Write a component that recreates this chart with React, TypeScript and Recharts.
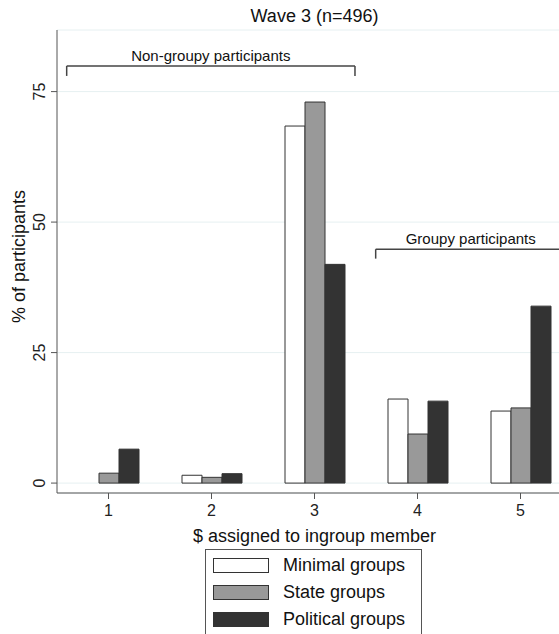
import React from 'react';
import { BarChart, Bar, XAxis, YAxis, CartesianGrid, ReferenceLine, Label } from 'recharts';

// values (% of participants)
const amounts = ['1', '2', '3', '4', '5'];
const minimalGroups = [0, 1.5, 68.4, 16.1, 13.8];
const stateGroups = [1.9, 1.1, 73.0, 9.4, 14.4];
const politicalGroups = [6.5, 1.8, 41.9, 15.7, 33.9];
const yTicks = [0, 25, 50, 75];

const FONT = '"Liberation Sans", Arial, Helvetica, sans-serif';
const EDGE = '#333';

const series = [
  { key: 'minimal', name: 'Minimal groups', fill: '#ffffff', values: minimalGroups },
  { key: 'state', name: 'State groups', fill: '#999999', values: stateGroups },
  { key: 'political', name: 'Political groups', fill: '#333333', values: politicalGroups },
];

const data = amounts.map((a, i) => ({
  amount: a,
  pos: i + 1,
  minimal: minimalGroups[i],
  state: stateGroups[i],
  political: politicalGroups[i],
}));

const YTick = ({ x, y, payload }: any) => (
  <text
    x={x}
    y={y}
    transform={`rotate(-90, ${x}, ${y})`}
    textAnchor="middle"
    fontSize={16}
    fontFamily={FONT}
    fill="#222"
  >
    {payload.value}
  </text>
);

const bracketLabel = (value: string) => ({
  value,
  position: 'top' as const,
  offset: 5,
  fill: '#111',
  fontSize: 15,
  fontFamily: FONT,
});

export default function App() {
  return (
    <div style={{ position: 'absolute', left: 0, top: 0, width: 559, height: 634, overflow: 'hidden', background: '#fff', fontFamily: FONT }}>
      <div style={{ position: 'absolute', left: 57, top: 7, width: 515, textAlign: 'center', fontSize: 18, lineHeight: 1, color: '#111' }}>
        Wave 3 (n=496)
      </div>
      <BarChart
        width={572}
        height={634}
        data={data}
        margin={{ top: 30, right: 0, bottom: 0, left: 0 }}
        barSize={20}
        barGap={0}
      >
        <CartesianGrid xAxisId="cat" vertical={false} stroke="#e6f0f1" />
        <XAxis
          xAxisId="cat"
          dataKey="amount"
          height={141}
          tickSize={6}
          tickMargin={6}
          stroke="#555"
          tick={{ fill: '#222', fontSize: 16, fontFamily: FONT }}
        >
          <Label
            content={({ viewBox }: any) => (
              <text x={viewBox.x + viewBox.width / 2} y={542} textAnchor="middle" fontSize={18} fontFamily={FONT} fill="#111">
                $ assigned to ingroup member
              </text>
            )}
          />
        </XAxis>
        <XAxis xAxisId="num" dataKey="pos" type="number" domain={[0.5, 5.5]} hide allowDataOverflow />
        <YAxis
          width={57}
          domain={[-1.9, 86.8]}
          ticks={yTicks}
          tickSize={6}
          tickMargin={6}
          stroke="#555"
          tick={<YTick />}
          allowDataOverflow
        >
          <Label
            content={({ viewBox }: any) => {
              const cx = 25;
              const cy = viewBox.y + viewBox.height / 2 - 5;
              return (
                <text x={cx} y={cy} transform={`rotate(-90, ${cx}, ${cy})`} textAnchor="middle" fontSize={18} fontFamily={FONT} fill="#111">
                  % of participants
                </text>
              );
            }}
          />
        </YAxis>

        {series.map((s) => (
          <Bar
            key={s.key}
            xAxisId="cat"
            dataKey={s.key}
            name={s.name}
            fill={s.fill}
            stroke={EDGE}
            strokeWidth={1}
            isAnimationActive={false}
          />
        ))}

        {/* Non-groupy bracket */}
        <ReferenceLine xAxisId="num" ifOverflow="visible" segment={[{ x: 0.594, y: 79.9 }, { x: 3.393, y: 79.9 }]} stroke="#444" strokeWidth={1.5} label={bracketLabel('Non-groupy participants')} />
        <ReferenceLine xAxisId="num" ifOverflow="visible" segment={[{ x: 0.594, y: 79.9 }, { x: 0.594, y: 78 }]} stroke="#444" strokeWidth={1.5} />
        <ReferenceLine xAxisId="num" ifOverflow="visible" segment={[{ x: 3.393, y: 79.9 }, { x: 3.393, y: 78 }]} stroke="#444" strokeWidth={1.5} />

        {/* Groupy bracket */}
        <ReferenceLine xAxisId="num" ifOverflow="visible" segment={[{ x: 3.594, y: 44.8 }, { x: 5.44, y: 44.8 }]} stroke="#444" strokeWidth={1.5} label={bracketLabel('Groupy participants')} />
        <ReferenceLine xAxisId="num" ifOverflow="visible" segment={[{ x: 3.594, y: 44.8 }, { x: 3.594, y: 43 }]} stroke="#444" strokeWidth={1.5} />
        <ReferenceLine xAxisId="num" ifOverflow="visible" segment={[{ x: 5.44, y: 44.8 }, { x: 5.44, y: 43 }]} stroke="#444" strokeWidth={1.5} />
      </BarChart>

      <div style={{ position: 'absolute', left: 205, top: 549, width: 217, height: 100, border: '1px solid #555', boxSizing: 'border-box' }}>
        {series.map((s, i) => (
          <div key={s.key} style={{ position: 'absolute', left: 7, top: 7 + i * 27, display: 'flex', alignItems: 'center', height: 16 }}>
            <div style={{ width: 56, height: 15, background: s.fill, border: `1px solid ${EDGE}`, boxSizing: 'border-box' }} />
            <span style={{ marginLeft: 14, fontSize: 18, color: '#111', whiteSpace: 'nowrap' }}>{s.name}</span>
          </div>
        ))}
      </div>
    </div>
  );
}
